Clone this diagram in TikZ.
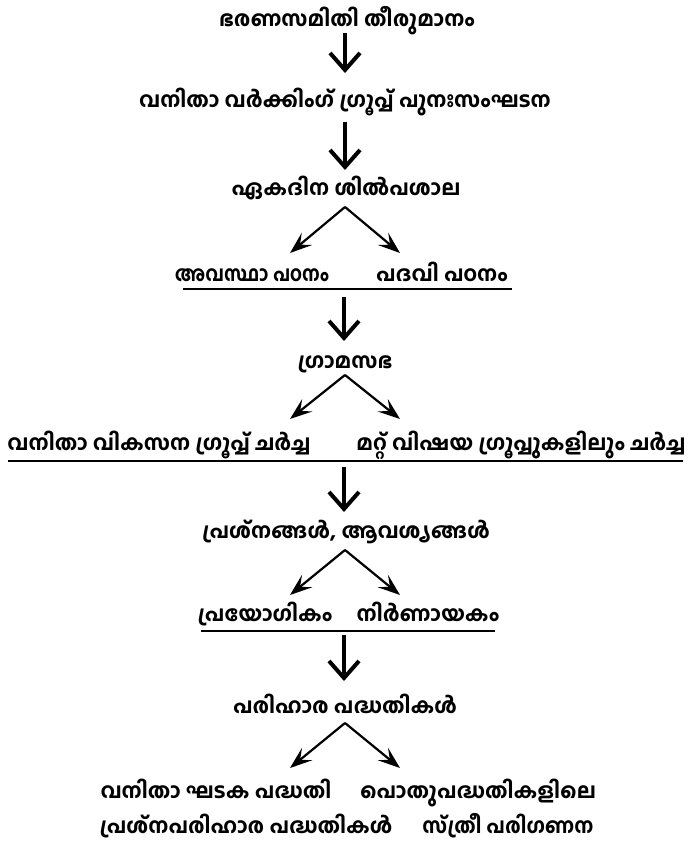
\documentclass[tikz,border=0pt]{standalone}
\usepackage{fontspec}
\newfontfamily\mal[Script=Malayalam]{Hind Kochi Bold}
\usetikzlibrary{arrows.meta}
\tikzset{
  lbl/.style={font=\mal\fontsize{21}{25}\selectfont, inner sep=0pt, anchor=base},
  downarrow/.style={line width=4pt, -{Straight Barb[length=17pt,width=30pt,sharp]}},
  splitarrow/.style={line width=2.2pt, -{Stealth[length=22pt,width=16pt,inset=9pt]}},
  uline/.style={line width=1.3pt}
}
\begin{document}
\begin{tikzpicture}[x=1pt,y=-1pt]
\useasboundingbox (0,0) rectangle (691,845);
% texts (base lines)
\node[lbl] (t1) at (347,27) {ഭരണസമിതി തീരുമാനം};
\node[lbl] (t2) at (345,108) {വനിതാ വർക്കിംഗ് ഗ്രൂപ്പ് പുനഃസംഘടന};
\node[lbl] (t3) at (346,196) {ഏകദിന ശിൽപശാല};
\node[lbl] (t4a) at (252,281) {\scalebox{0.88}[1]{അവസ്ഥാ പഠനം}};
\node[lbl] (t4b) at (442,281) {പദവി പഠനം};
\node[lbl] (t5) at (345,368) {ഗ്രാമസഭ};
\node[lbl] (t6a) at (159,450) {വനിതാ വികസന ഗ്രൂപ്പ് ചർച്ച};
\node[lbl] (t6b) at (521,450) {മറ്റ് വിഷയ ഗ്രൂപ്പുകളിലും ചർച്ച};
\node[lbl] (t7) at (346,538) {പ്രശ്നങ്ങൾ, ആവശ്യങ്ങൾ};
\node[lbl] (t8a) at (265,621) {പ്രയോഗികം};
\node[lbl] (t8b) at (428,621) {നിർണായകം};
\node[lbl] (t9) at (345,713) {പരിഹാര പദ്ധതികൾ};
\node[lbl] (t10a) at (216,798) {വനിതാ ഘടക പദ്ധതി};
\node[lbl] (t10b) at (478,798) {പൊതുപദ്ധതികളിലെ};
\node[lbl] (t11a) at (246,833) {പ്രശ്നപരിഹാര പദ്ധതികൾ};
\node[lbl] (t11b) at (508,833) {\scalebox{0.95}[1]{സ്ത്രീ പരിഗണന}};
% coordinates
\coordinate (a1s) at (345,33);  \coordinate (a1e) at (345,73);
\coordinate (a2s) at (345,122); \coordinate (a2e) at (345,170);
\coordinate (a3s) at (344,297); \coordinate (a3e) at (344,341);
\coordinate (a4s) at (344,467); \coordinate (a4e) at (344,512);
\coordinate (a5s) at (344,635); \coordinate (a5e) at (344,681);
\coordinate (v1) at (345,207); \coordinate (v1l) at (290,253); \coordinate (v1r) at (400,253);
\coordinate (v2) at (345,375); \coordinate (v2l) at (290,419); \coordinate (v2r) at (400,419);
\coordinate (v3) at (345,550); \coordinate (v3l) at (290,595); \coordinate (v3r) at (400,595);
\coordinate (v4) at (345,723); \coordinate (v4l) at (290,768); \coordinate (v4r) at (400,768);
\coordinate (u4l) at (183,289); \coordinate (u4r) at (512,289);
\coordinate (u6l) at (8,461);   \coordinate (u6r) at (683,461);
\coordinate (u8l) at (201,631); \coordinate (u8r) at (495,631);
% arrows
\draw[downarrow] (a1s) -- (a1e);
\draw[downarrow] (a2s) -- (a2e);
\draw[downarrow] (a3s) -- (a3e);
\draw[downarrow] (a4s) -- (a4e);
\draw[downarrow] (a5s) -- (a5e);
\foreach \v in {v1,v2,v3,v4}{
  \draw[splitarrow] (\v) -- (\v l);
  \draw[splitarrow] (\v) -- (\v r);
}
\draw[uline] (u4l) -- (u4r);
\draw[uline] (u6l) -- (u6r);
\draw[uline] (u8l) -- (u8r);
\end{tikzpicture}
\end{document}
